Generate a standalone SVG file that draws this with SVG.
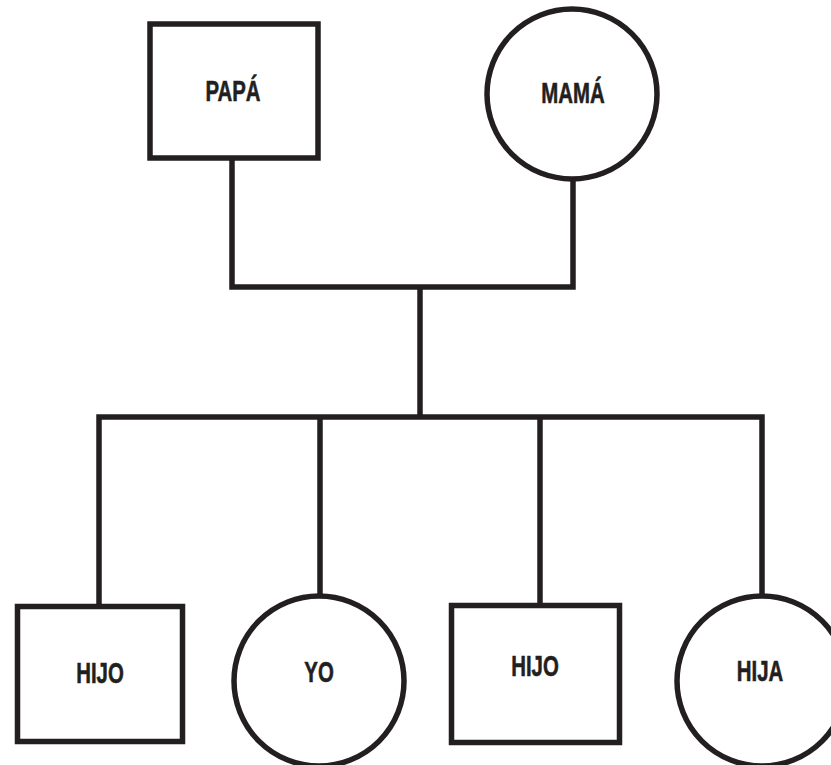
<svg xmlns="http://www.w3.org/2000/svg" width="831" height="765" viewBox="0 0 831 765">
<style>
.shape{fill:#fff;stroke:#231f20;stroke-width:5.5}
.conn{fill:none;stroke:#231f20;stroke-width:5.5;stroke-linejoin:miter}
.lbl{font-family:"Liberation Sans",Arial,sans-serif;font-weight:bold;font-size:30px;fill:#231f20;text-anchor:middle;stroke:#231f20;stroke-width:0.6}
</style>
<rect width="831" height="765" fill="#fff"/>
<g id="connectors">
<polyline class="conn" points="232,158 232,287 573,287 573,178"/>
<line class="conn" x1="420" y1="287" x2="420" y2="417"/>
<polyline class="conn" points="99,604 99,417 762,417 762,596"/>
<line class="conn" x1="320" y1="417" x2="320" y2="596"/>
<line class="conn" x1="540" y1="417" x2="540" y2="604"/>
</g>
<g id="papa">
<rect class="shape" x="150" y="24" width="168" height="134"/>
<text class="lbl" transform="translate(233 101) scale(0.68 1)">PAPÁ</text>
</g>
<g id="mama">
<circle class="shape" cx="572" cy="94" r="85"/>
<text class="lbl" transform="translate(573 103) scale(0.68 1)">MAMÁ</text>
</g>
<g id="hijo1">
<rect class="shape" x="17.5" y="606.5" width="165" height="135"/>
<text class="lbl" transform="translate(100 683) scale(0.68 1)">HIJO</text>
</g>
<g id="yo">
<circle class="shape" cx="319" cy="681" r="85"/>
<text class="lbl" transform="translate(319 682) scale(0.68 1)">YO</text>
</g>
<g id="hijo2">
<rect class="shape" x="451.5" y="605.5" width="168" height="137"/>
<text class="lbl" transform="translate(535 676) scale(0.68 1)">HIJO</text>
</g>
<g id="hija">
<circle class="shape" cx="762" cy="681" r="85"/>
<text class="lbl" transform="translate(760 681) scale(0.68 1)">HIJA</text>
</g>
</svg>
